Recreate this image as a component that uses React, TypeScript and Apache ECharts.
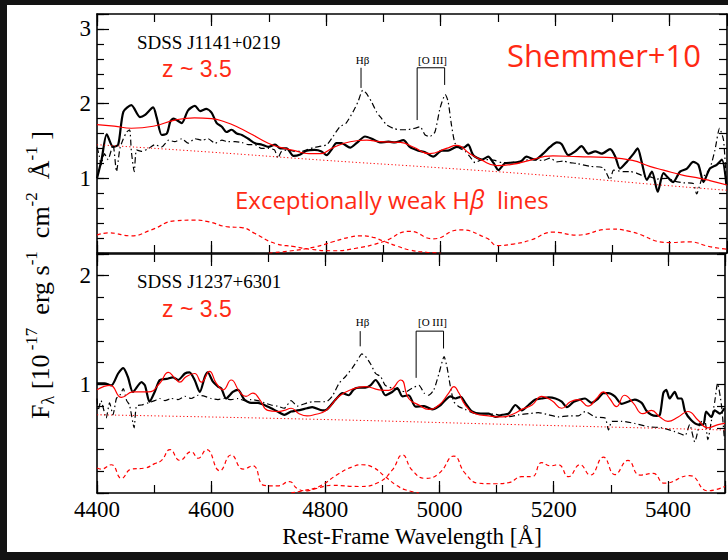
import React, { useEffect, useRef } from 'react';
import * as echarts from 'echarts';

// ---------- data (wavelength [Å], flux) ----------
const topObserved = [
  [4400,1.00],[4408,1.25],[4417,1.59],[4428,1.42],[4437,1.45],[4446,1.89],[4460,1.98],[4475,1.82],[4484,1.85],[4498,1.95],
  [4504,1.82],[4513,1.58],[4522,1.60],[4528,1.76],[4533,1.80],[4539,1.78],[4548,1.74],[4559,1.91],[4571,1.97],[4580,1.90],
  [4591,1.93],[4600,1.88],[4609,1.74],[4618,1.69],[4626,1.62],[4635,1.65],[4644,1.60],[4653,1.58],[4664,1.53],[4676,1.47],
  [4688,1.45],[4699,1.42],[4711,1.45],[4720,1.40],[4731,1.40],[4743,1.30],[4755,1.32],[4766,1.37],[4780,1.38],[4792,1.36],
  [4801,1.31],[4810,1.39],[4818,1.47],[4827,1.47],[4842,1.41],[4853,1.47],[4868,1.56],[4880,1.53],[4894,1.48],[4909,1.49],
  [4920,1.48],[4935,1.51],[4946,1.42],[4961,1.37],[4973,1.35],[4987,1.29],[5002,1.37],[5013,1.37],[5028,1.42],[5040,1.41],
  [5048,1.45],[5057,1.31],[5072,1.25],[5083,1.29],[5092,1.21],[5101,1.11],[5112,1.20],[5125,1.21],[5139,1.22],[5150,1.29],
  [5165,1.25],[5179,1.33],[5191,1.42],[5203,1.48],[5211,1.46],[5223,1.31],[5235,1.36],[5246,1.43],[5258,1.33],[5270,1.36],
  [5281,1.33],[5296,1.39],[5305,1.29],[5313,1.13],[5325,1.22],[5337,1.33],[5344,1.40],[5351,1.22],[5360,0.98],[5369,1.09],
  [5379,0.82],[5389,1.07],[5398,1.00],[5406,0.95],[5418,1.09],[5430,1.13],[5441,1.22],[5450,1.18],[5459,0.95],[5470,1.13],
  [5482,1.18],[5491,1.25],[5499,0.91]
];
const topComposite = [
  [4400,1.42],[4404,1.30],[4407,1.18],[4413,1.33],[4419,1.25],[4428,1.45],[4434,1.09],[4440,1.40],[4446,1.53],[4452,1.62],
  [4457,1.65],[4460,1.36],[4465,1.09],[4469,1.38],[4478,1.36],[4490,1.40],[4501,1.45],[4513,1.42],[4525,1.51],[4536,1.49],
  [4548,1.53],[4559,1.47],[4571,1.53],[4583,1.51],[4594,1.53],[4606,1.47],[4618,1.51],[4629,1.49],[4641,1.49],[4653,1.48],
  [4664,1.45],[4676,1.45],[4687,1.40],[4699,1.40],[4710,1.38],[4716,1.27],[4722,1.36],[4734,1.38],[4745,1.36],[4757,1.36],
  [4777,1.41],[4801,1.45],[4812,1.56],[4824,1.69],[4835,1.74],[4847,1.89],[4856,2.03],[4864,2.18],[4870,2.14],[4879,2.03],
  [4888,1.89],[4897,1.80],[4905,1.72],[4917,1.67],[4929,1.65],[4940,1.65],[4955,1.67],[4964,1.69],[4973,1.58],[4981,1.56],
  [4990,1.62],[4999,1.94],[5008,2.12],[5013,2.03],[5019,1.71],[5025,1.47],[5034,1.40],[5043,1.36],[5051,1.29],[5060,1.21],
  [5072,1.25],[5083,1.25],[5095,1.24],[5107,1.21],[5121,1.21],[5140,1.23],[5156,1.25],[5179,1.24],[5191,1.27],[5203,1.22],
  [5214,1.23],[5226,1.21],[5237,1.20],[5261,1.16],[5284,1.14],[5296,0.98],[5302,1.11],[5319,1.09],[5331,1.09],[5342,1.07],
  [5354,1.03],[5366,1.02],[5377,0.99],[5394,1.00],[5410,0.96],[5424,0.94],[5441,0.93],[5447,0.79],[5456,0.99],[5470,1.13],
  [5479,1.38],[5487,1.67],[5494,1.51],[5499,0.91]
];
const topModel = [
  [4400,1.72],[4430,1.70],[4460,1.67],[4500,1.70],[4536,1.78],[4570,1.81],[4600,1.80],[4625,1.75],[4647,1.68],[4670,1.59],
  [4699,1.47],[4722,1.41],[4745,1.37],[4770,1.33],[4790,1.33],[4812,1.41],[4842,1.49],[4871,1.51],[4894,1.49],[4930,1.48],
  [4952,1.42],[4981,1.33],[5010,1.40],[5028,1.44],[5051,1.33],[5070,1.25],[5098,1.17],[5127,1.19],[5150,1.23],[5196,1.30],
  [5240,1.29],[5290,1.28],[5335,1.24],[5365,1.16],[5389,1.11],[5424,1.04],[5447,1.01],[5470,0.97],[5500,0.91]
];
const topContinuum = [[4400,1.45],[4600,1.35],[4800,1.24],[5000,1.14],[5200,1.03],[5400,0.90],[5500,0.84]];
const topFeII = [
  [4400,0.24],[4420,0.27],[4460,0.23],[4495,0.31],[4536,0.43],[4571,0.44],[4594,0.42],[4629,0.35],[4653,0.34],[4676,0.26],
  [4710,0.13],[4745,0.085],[4772,0.05],[4812,0.03],[4850,0.06],[4899,0.15],[4946,0.29],[4987,0.19],[5033,0.31],[5080,0.20],
  [5100,0.10],[5127,0.12],[5156,0.17],[5197,0.28],[5237,0.24],[5296,0.32],[5330,0.29],[5400,0.14],[5433,0.15],[5470,0.085],
  [5500,0.05]
];
const topHbeta = [
  [4700,0.0],[4740,0.03],[4780,0.08],[4812,0.15],[4840,0.21],[4862,0.23],[4882,0.21],[4900,0.16],[4925,0.09],[4946,0.04],
  [4975,0.01],[5000,0.0]
];

const botObserved = [
  [4400,1.01],[4413,1.01],[4425,0.99],[4437,1.10],[4446,1.15],[4454,1.07],[4463,0.93],[4478,1.02],[4484,0.99],[4492,0.84],
  [4501,0.93],[4510,1.04],[4522,1.05],[4533,1.065],[4542,1.04],[4554,1.10],[4562,1.11],[4571,1.04],[4580,0.93],[4589,1.07],
  [4594,1.11],[4603,1.025],[4612,0.98],[4618,0.96],[4626,0.87],[4638,0.93],[4647,0.95],[4658,0.86],[4670,0.83],[4682,0.83],
  [4693,0.81],[4705,0.78],[4716,0.75],[4728,0.72],[4740,0.75],[4751,0.76],[4768,0.78],[4777,0.79],[4795,0.76],[4803,0.77],
  [4818,0.86],[4830,0.92],[4841,0.90],[4850,0.955],[4859,0.97],[4870,0.97],[4879,0.99],[4888,1.04],[4897,0.975],[4905,0.90],
  [4917,0.93],[4926,0.965],[4935,0.89],[4946,0.90],[4958,0.795],[4973,0.80],[4987,0.77],[5002,0.81],[5011,0.86],[5019,0.89],
  [5028,0.87],[5037,0.885],[5045,0.83],[5057,0.75],[5072,0.73],[5086,0.73],[5098,0.70],[5110,0.72],[5121,0.73],[5133,0.81],
  [5144,0.76],[5156,0.81],[5168,0.86],[5179,0.87],[5191,0.88],[5203,0.87],[5214,0.84],[5223,0.79],[5235,0.84],[5246,0.86],
  [5255,0.87],[5266,0.83],[5278,0.87],[5287,0.92],[5296,0.92],[5307,0.89],[5319,0.82],[5330,0.84],[5342,0.86],[5354,0.83],
  [5362,0.76],[5371,0.72],[5380,0.71],[5386,0.72],[5392,0.92],[5397,0.95],[5403,0.87],[5412,0.93],[5418,0.87],[5424,0.87],
  [5430,0.75],[5441,0.67],[5453,0.63],[5462,0.63],[5467,0.75],[5476,0.70],[5482,0.76],[5491,0.73],[5499,0.78]
];
const botComposite = [
  [4400,0.87],[4402,0.76],[4407,0.85],[4416,0.69],[4422,0.83],[4428,0.72],[4434,0.87],[4440,0.90],[4446,0.96],[4452,0.85],
  [4457,0.81],[4465,0.60],[4469,0.80],[4478,0.81],[4490,0.83],[4501,0.85],[4510,0.87],[4519,0.85],[4530,0.87],[4542,0.86],
  [4554,0.89],[4565,0.87],[4577,0.90],[4589,0.89],[4600,0.87],[4612,0.86],[4623,0.87],[4635,0.86],[4647,0.87],[4658,0.85],
  [4670,0.86],[4682,0.85],[4693,0.83],[4705,0.81],[4716,0.80],[4728,0.78],[4740,0.85],[4751,0.80],[4768,0.83],[4777,0.84],
  [4801,0.84],[4812,0.89],[4824,1.01],[4835,1.07],[4847,1.15],[4856,1.22],[4864,1.28],[4870,1.26],[4879,1.19],[4888,1.10],
  [4897,1.07],[4905,0.99],[4917,0.965],[4929,0.95],[4940,0.93],[4952,0.965],[4964,0.99],[4973,0.92],[4981,0.90],[4990,0.95],
  [4999,1.10],[5008,1.255],[5013,1.16],[5019,0.98],[5025,0.84],[5034,0.795],[5045,0.77],[5057,0.74],[5072,0.73],[5086,0.73],
  [5103,0.72],[5118,0.70],[5139,0.72],[5156,0.73],[5173,0.74],[5191,0.72],[5208,0.70],[5226,0.71],[5243,0.71],[5255,0.75],
  [5272,0.70],[5290,0.69],[5296,0.58],[5302,0.66],[5319,0.66],[5342,0.64],[5366,0.61],[5389,0.60],[5412,0.565],[5430,0.53],
  [5438,0.63],[5447,0.47],[5456,0.64],[5464,0.68],[5470,0.49],[5476,0.66],[5482,0.84],[5487,1.01],[5494,0.80],[5499,0.49]
];
const botModel = [
  [4400,0.95],[4423,0.99],[4443,0.88],[4463,0.93],[4490,0.93],[4510,1.01],[4525,1.11],[4536,1.06],[4545,1.02],[4556,1.07],
  [4571,1.10],[4583,1.02],[4597,1.12],[4609,1.01],[4621,0.95],[4635,1.04],[4650,0.93],[4661,0.89],[4673,0.92],[4685,0.86],
  [4699,0.76],[4716,0.75],[4728,0.76],[4740,0.78],[4754,0.73],[4768,0.71],[4780,0.72],[4801,0.76],[4824,0.89],[4847,0.955],
  [4870,0.98],[4894,0.95],[4911,0.945],[4932,1.04],[4946,0.87],[4964,0.81],[4981,0.77],[4999,0.81],[5016,0.92],[5025,0.98],
  [5034,0.92],[5045,0.81],[5063,0.73],[5086,0.71],[5110,0.70],[5130,0.73],[5144,0.77],[5162,0.81],[5179,0.89],[5197,0.85],
  [5214,0.78],[5229,0.84],[5243,0.86],[5260,0.80],[5275,0.87],[5287,0.93],[5298,0.87],[5310,0.795],[5324,0.90],[5339,0.83],
  [5356,0.73],[5371,0.76],[5386,0.70],[5400,0.66],[5418,0.70],[5435,0.75],[5453,0.67],[5470,0.60],[5488,0.63],[5500,0.64]
];
const botContinuum = [[4400,0.72],[4770,0.68],[5130,0.63],[5500,0.58]];
const botFeII = [
  [4400,0.23],[4407,0.22],[4425,0.26],[4443,0.135],[4460,0.22],[4484,0.23],[4501,0.27],[4513,0.30],[4528,0.40],[4545,0.30],
  [4565,0.38],[4577,0.32],[4592,0.40],[4615,0.205],[4635,0.35],[4656,0.22],[4673,0.25],[4693,0.07],[4716,0.065],[4737,0.105],
  [4751,0.04],[4768,0.02],[4783,0.04],[4812,0.07],[4859,0.06],[4894,0.10],[4917,0.21],[4935,0.35],[4952,0.21],[4975,0.135],
  [4999,0.18],[5025,0.34],[5045,0.18],[5069,0.09],[5098,0.085],[5121,0.095],[5144,0.15],[5162,0.15],[5179,0.28],[5194,0.25],
  [5208,0.26],[5226,0.15],[5246,0.26],[5264,0.165],[5287,0.33],[5307,0.17],[5330,0.30],[5351,0.165],[5374,0.18],[5394,0.09],
  [5438,0.16],[5470,0.02],[5500,0.06]
];
const botHbeta = [
  [4740,0.0],[4760,0.02],[4789,0.06],[4824,0.18],[4847,0.24],[4864,0.26],[4882,0.24],[4905,0.15],[4925,0.07],[4940,0.03],
  [4964,0.0]
];

// line-identification markers (Hβ 4861, [O III] 4959/5007)
const topHbMarker = [[4861,2.21],[4861,2.48]];
const topO3Marker = [[4959,1.78],[4959,2.48],[5007,2.48],[5007,2.25]];
const botHbMarker = [[4861,1.35],[4861,1.49]];
const botO3Marker = [[4959,1.06],[4959,1.49],[5007,1.49],[5007,1.33]];

const yMaxTop = 3.2;
const yMaxBot = 2.2;

// ---------- styling ----------
const SERIF = "'Liberation Serif','DejaVu Serif',serif";
const SANS = "'Liberation Sans',Arial,sans-serif";
const COMIC = "'Open Sans','DejaVu Sans',sans-serif";
const RED = '#ff0000';
const TXT_RED = '#ff2a14';

function xAx(grid: number, position: string, interval: number, len: number, showLine: boolean, showLabel: boolean) {
  return {
    type: 'value', gridIndex: grid, position, min: 4400, max: 5500, interval,
    axisLine: { show: showLine, onZero: false, lineStyle: { color: '#000', width: 1.6 } },
    axisTick: { show: true, inside: true, length: len, lineStyle: { color: '#000', width: 1.2 } },
    axisLabel: showLabel ? {
      show: true, color: '#000', fontFamily: SERIF, fontSize: 23, margin: 5,
      formatter: (v: number) => ((v - 4400) % 200 === 0 && v < 5500 ? String(v) : ''),
    } : { show: false },
    splitLine: { show: false },
  };
}
function yAx(grid: number, position: string, max: number, interval: number, len: number, showLine: boolean, showLabel: boolean) {
  return {
    type: 'value', gridIndex: grid, position, min: 0, max, interval,
    axisLine: { show: showLine, onZero: false, lineStyle: { color: '#000', width: 1.6 } },
    axisTick: { show: true, inside: true, length: len, lineStyle: { color: '#000', width: 1.2 } },
    axisLabel: showLabel ? {
      show: true, color: '#000', fontFamily: SERIF, fontSize: 23, margin: 6,
      formatter: (v: number) => (v > 0 && Math.abs(v - Math.round(v)) < 1e-6 ? String(Math.round(v)) : ''),
    } : { show: false },
    splitLine: { show: false },
  };
}

function ln(data: number[][], g: number, lineStyle: any, smooth: number | boolean, z: number) {
  return {
    type: 'line', xAxisIndex: g * 4, yAxisIndex: g * 3, data, symbol: 'none', showSymbol: false,
    smooth, lineStyle, z, silent: true, clip: true,
  };
}

const sObs = { color: '#000', width: 2.2 };
const sComp = { color: '#000', width: 1.2, type: [6, 3, 1.5, 3] };
const sModel = { color: RED, width: 1.2 };
const sCont = { color: RED, width: 1, type: [1.2, 2.4] };
const sDash = { color: RED, width: 1.2, type: [4, 3] };
const sMark = { color: '#000', width: 1 };

function txt(x: number, y: number, text: string, fontSize: number, fontFamily: string, fill: string, align = 'left', extra: any = {}) {
  return { type: 'text', x, y, z: 50, style: { text, fontSize, fontFamily, fill, align, verticalAlign: 'middle', ...extra } };
}

export default function App() {
  const ref = useRef<HTMLDivElement>(null);
  useEffect(() => {
    document.body.style.margin = '0';
    const chart = echarts.init(ref.current as HTMLDivElement, null, { renderer: 'svg' });
    const option: any = {
      animation: false,
      backgroundColor: '#131313',
      grid: [
        { left: 97, top: 14, width: 630, height: 239 },
        { left: 97, top: 254, width: 630, height: 239 },
      ],
      xAxis: [
        xAx(0, 'bottom', 200, 12, true, false),
        xAx(0, 'bottom', 100, 8, false, false),
        xAx(0, 'top', 200, 12, true, false),
        xAx(0, 'top', 100, 8, false, false),
        xAx(1, 'bottom', 200, 12, true, true),
        xAx(1, 'bottom', 100, 8, false, false),
        xAx(1, 'top', 200, 12, true, false),
        xAx(1, 'top', 100, 8, false, false),
      ],
      yAxis: [
        yAx(0, 'left', yMaxTop, 1, 12, true, true),
        yAx(0, 'left', yMaxTop, 0.2, 7, false, false),
        yAx(0, 'right', yMaxTop, 0.2, 8, true, false),
        yAx(1, 'left', yMaxBot, 1, 12, true, true),
        yAx(1, 'left', yMaxBot, 0.2, 7, false, false),
        yAx(1, 'right', yMaxBot, 0.2, 8, true, false),
      ],
      series: [
        ln(topComposite, 0, sComp, 0.2, 3),
        ln(topObserved, 0, sObs, 0.25, 4),
        ln(topModel, 0, sModel, 0.5, 5),
        ln(topContinuum, 0, sCont, 0.5, 5),
        ln(topFeII, 0, sDash, 0.5, 5),
        ln(topHbeta, 0, sDash, 0.5, 5),
        ln(topHbMarker, 0, sMark, false, 6),
        ln(topO3Marker, 0, sMark, false, 6),
        ln(botComposite, 1, sComp, 0.2, 3),
        ln(botObserved, 1, sObs, 0.25, 4),
        ln(botModel, 1, sModel, 0.5, 5),
        ln(botContinuum, 1, sCont, 0.5, 5),
        ln(botFeII, 1, sDash, 0.5, 5),
        ln(botHbeta, 1, sDash, 0.5, 5),
        ln(botHbMarker, 1, sMark, false, 6),
        ln(botO3Marker, 1, sMark, false, 6),
      ],
      graphic: [
        { type: 'rect', z: -100, shape: { x: 7, y: 5, width: 721, height: 547 }, style: { fill: '#ffffff' } },
        txt(137, 42, 'SDSS J1141+0219', 19, SERIF, '#000'),
        txt(162, 69, 'z ~ 3.5', 23, SANS, TXT_RED),
        txt(604, 55, 'Shemmer+10', 31, COMIC, TXT_RED, 'center'),
        {
          type: 'text', x: 235, y: 199, z: 50,
          style: {
            text: '{a|Exceptionally weak H}{b|β}{a|  lines}', align: 'left', verticalAlign: 'middle',
            rich: {
              a: { fontSize: 24, fontFamily: COMIC, fill: TXT_RED, color: TXT_RED },
              b: { fontSize: 25, fontFamily: COMIC, fontStyle: 'italic', fill: TXT_RED, color: TXT_RED },
            },
          },
        },
        txt(137, 281, 'SDSS J1237+6301', 19, SERIF, '#000'),
        txt(162, 309, 'z ~ 3.5', 23, SANS, TXT_RED),
        txt(362.5, 60, 'Hβ', 11, SERIF, '#000', 'center'),
        txt(432.5, 60, '[O III]', 11, SERIF, '#000', 'center'),
        txt(362.5, 322, 'Hβ', 11, SERIF, '#000', 'center'),
        txt(432.5, 322, '[O III]', 11, SERIF, '#000', 'center'),
        txt(412, 536, 'Rest-Frame Wavelength [Å]', 23, SERIF, '#000', 'center'),
        {
          type: 'text', x: 40, y: 275, rotation: Math.PI / 2, z: 50,
          style: {
            text: '{m|F}{sub|λ}{m| [10}{sup| -17}{m|  erg s}{sup|-1}{m|  cm}{sup|-2}{m|  Å}{sup|-1}{m| ]}',
            align: 'center', verticalAlign: 'middle',
            rich: {
              m: { fontSize: 26, fontFamily: SERIF, fill: '#000', lineHeight: 34, verticalAlign: 'middle' },
              sup: { fontSize: 17, fontFamily: SERIF, fill: '#000', lineHeight: 17, verticalAlign: 'top' },
              sub: { fontSize: 18, fontFamily: SERIF, fill: '#000', lineHeight: 18, verticalAlign: 'bottom' },
            },
          },
        },
      ],
    };
    chart.setOption(option);
    return () => chart.dispose();
  }, []);
  return <div ref={ref} style={{ width: 728, height: 560 }} />;
}
